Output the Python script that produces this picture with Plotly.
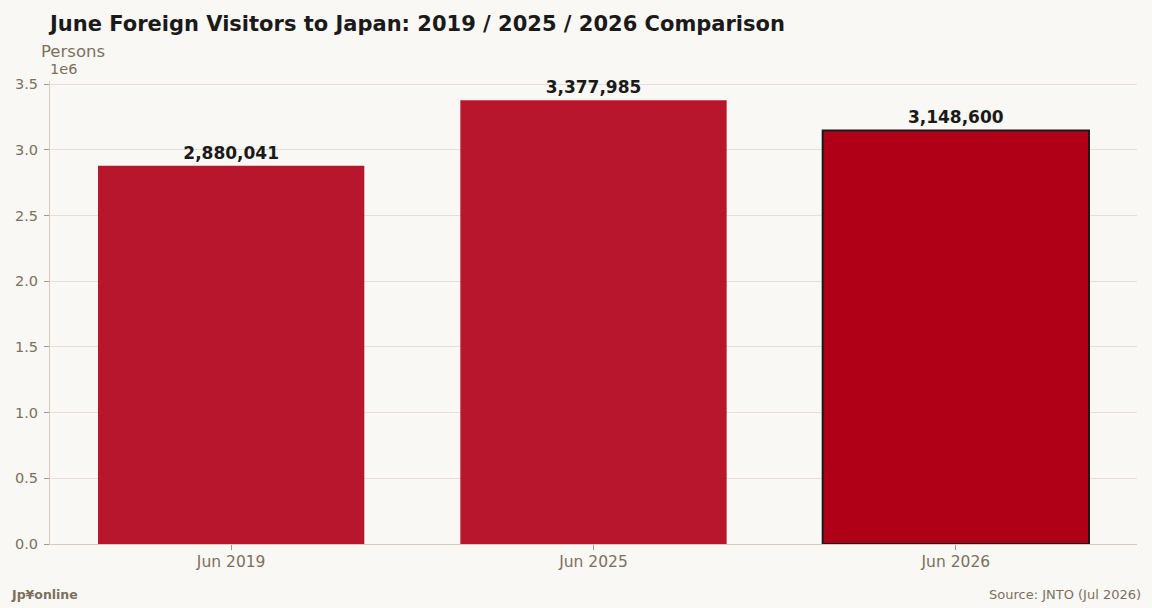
import plotly.graph_objects as go

categories = ['Jun 2019', 'Jun 2025', 'Jun 2026']
visitors = [2880041, 3377985, 3148600]
y_ticks = [0, 500000, 1000000, 1500000, 2000000, 2500000, 3000000, 3500000]
y_tick_labels = ['0.0', '0.5', '1.0', '1.5', '2.0', '2.5', '3.0', '3.5']

W, H = 1152, 608
L, R, T, B = 50, 15, 81, 64
bg = '#faf8f5'
muted = '#7a705e'
font = 'DejaVu Sans'


def px_x(x):
    return (x - L) / (W - L - R)


def px_y(y):
    return (H - B - y) / (H - T - B)


fig = go.Figure()
fig.add_trace(go.Bar(
    x=categories,
    y=visitors,
    width=0.735,
    marker=dict(
        color=['#b8162c', '#b8162c', '#b00018'],
        line=dict(color=['rgba(0,0,0,0)', 'rgba(0,0,0,0)', '#1a1a1a'], width=[0, 0, 2]),
    ),
    text=[f'{v:,}' for v in visitors],
    textposition='outside',
    textfont=dict(family=font, size=17, color='#1a1a1a', weight='bold'),
    cliponaxis=False,
    hoverinfo='x+y',
))

fig.update_layout(
    width=W, height=H,
    paper_bgcolor=bg, plot_bgcolor=bg,
    margin=dict(l=L, r=R, t=T, b=B),
    showlegend=False,
    font=dict(family=font, color=muted, size=14),
    title=dict(
        text='<b>June Foreign Visitors to Japan: 2019 / 2025 / 2026 Comparison</b>',
        x=L / W, xanchor='left', y=1 - 24 / H, yanchor='middle',
        font=dict(family=font, size=21, color='#1a1a1a'),
    ),
)
fig.update_xaxes(
    range=[-0.5, 2.5],
    showline=True, linecolor='#d6cdc0', linewidth=1,
    ticks='outside', ticklen=5, tickcolor='#a09888',
    ticklabelstandoff=-2,
    showgrid=False,
    tickfont=dict(family=font, size=15.5, color=muted),
)
fig.update_yaxes(
    range=[0, 3525000],
    tickvals=y_ticks, ticktext=y_tick_labels,
    showline=True, linecolor='#d6cdc0', linewidth=1,
    ticks='outside', ticklen=5, tickcolor='#a09888',
    ticklabelstandoff=3,
    showgrid=True, gridcolor='#eadcd8', gridwidth=1,
    zeroline=False,
    layer='above traces',
    tickfont=dict(family=font, size=14.5, color=muted),
)

fig.add_annotation(text='Persons', x=px_x(39), y=px_y(52), xref='paper', yref='paper',
                   xanchor='left', yanchor='middle', showarrow=False,
                   font=dict(family=font, size=16.5, color=muted))
fig.add_annotation(text='1e6', x=px_x(48), y=px_y(69), xref='paper', yref='paper',
                   xanchor='left', yanchor='middle', showarrow=False,
                   font=dict(family=font, size=14.5, color=muted))
fig.add_annotation(text='<b>Jp¥online</b>', x=px_x(9), y=px_y(594), xref='paper', yref='paper',
                   xanchor='left', yanchor='middle', showarrow=False,
                   font=dict(family=font, size=12.5, color=muted))
fig.add_annotation(text='Source: JNTO (Jul 2026)', x=px_x(1143), y=px_y(594), xref='paper', yref='paper',
                   xanchor='right', yanchor='middle', showarrow=False,
                   font=dict(family=font, size=13, color=muted))

fig.write_html('out.html', config={'displayModeBar': False},
               post_script="document.body.style.margin='0';")
